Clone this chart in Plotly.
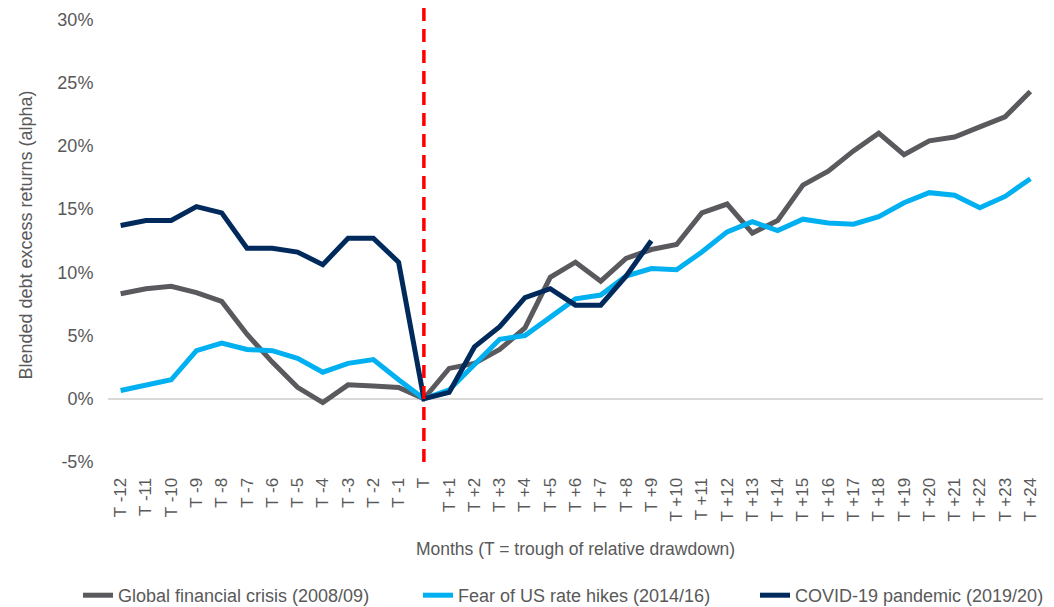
import plotly.graph_objects as go

categories = [f"T -{i}" for i in range(12, 0, -1)] + ["T"] + [f"T +{i}" for i in range(1, 25)]
trough_label = "T"

gfc = [8.3, 8.7, 8.9, 8.4, 7.7, 5.1, 2.9, 0.9, -0.3, 1.1, 1.0, 0.9,
       0.0,
       2.4, 2.8, 3.9, 5.6, 9.6, 10.8, 9.3, 11.1, 11.8, 12.2, 14.7, 15.4,
       13.1, 14.1, 16.9, 18.0, 19.6, 21.0, 19.3, 20.4, 20.7, 21.5, 22.3, 24.3]
fear = [0.65, 1.1, 1.5, 3.8, 4.4, 3.9, 3.8, 3.2, 2.1, 2.8, 3.1, 1.5,
        0.0,
        0.7, 2.7, 4.7, 5.0, 6.5, 7.9, 8.2, 9.7, 10.3, 10.2, 11.6, 13.2,
        14.0, 13.3, 14.2, 13.9, 13.8, 14.4, 15.5, 16.3, 16.1, 15.1, 16.0, 17.4]
covid = [13.7, 14.1, 14.1, 15.2, 14.7, 11.9, 11.9, 11.6, 10.6, 12.7, 12.7, 10.8,
         0.0,
         0.5, 4.1, 5.7, 8.0, 8.7, 7.4, 7.4, 9.7, 12.5] + [None] * 15

series_names = ["Global financial crisis (2008/09)",
                "Fear of US rate hikes (2014/16)",
                "COVID-19 pandemic (2019/20)"]
series_colors = ["#5a5a5e", "#00b0f0", "#002a5c"]
legend_ids = ["legend", "legend2", "legend3"]
legend_x_px = [70, 410, 747]   # left edge of each legend box, figure pixels

y_ticks = [-5, 0, 5, 10, 15, 20, 25, 30]
y_tick_text = [f"{v}%" for v in y_ticks]

FONT = "Liberation Sans, Arial, sans-serif"
TXT = "#595959"

# page body has an 8px margin, so the figure is sized to end at the window edge
W, H = 1046, 599
ML, MR, MT, MB = 100, 11, 0, 145
PW = W - ML - MR
PH = H - MT - MB

fig = go.Figure()
for name, vals, col, lg in zip(series_names, [gfc, fear, covid], series_colors, legend_ids):
    fig.add_trace(go.Scatter(x=categories, y=vals, name=name, mode="lines",
                             line=dict(color=col, width=5), connectgaps=False,
                             legend=lg))

fig.add_shape(type="line", xref="x", yref="y", x0=trough_label, x1=trough_label,
              y0=-5, y1=30.9, line=dict(color="#ff0000", width=3.5, dash="13px,8px"))

legend_common = dict(orientation="h", xanchor="left", yanchor="top",
                     y=-(115 / PH), font=dict(family=FONT, size=18, color=TXT),
                     bgcolor="rgba(0,0,0,0)")
legends = {}
for lg, px in zip(legend_ids, legend_x_px):
    legends[lg] = dict(legend_common, x=(px - ML) / PW)

fig.update_layout(
    width=W, height=H,
    margin=dict(l=ML, r=MR, t=MT, b=MB, autoexpand=False),
    paper_bgcolor="white", plot_bgcolor="white",
    font=dict(family=FONT, size=18, color=TXT),
    showlegend=True,
    **legends,
    xaxis=dict(type="category", range=[-0.5, len(categories) - 0.5], tickangle=-90,
               showgrid=False, showline=False,
               zeroline=False, ticks="outside", ticklen=8, tickcolor="white",
               tickfont=dict(size=17), automargin=False,
               title=dict(text="Months (T = trough of relative drawdown)", standoff=22,
                          font=dict(size=17.5))),
    yaxis=dict(range=[-5, 30.9], tickvals=y_ticks, ticktext=y_tick_text,
               showgrid=False, zeroline=True, zerolinecolor="#d9d9d9", zerolinewidth=2,
               showline=False, ticks="outside", ticklen=10, tickcolor="white",
               tickfont=dict(size=18), automargin=False,
               title=dict(text="Blended debt excess returns (alpha)", standoff=20,
                          font=dict(size=18))),
)

fig.write_html("out.html")
